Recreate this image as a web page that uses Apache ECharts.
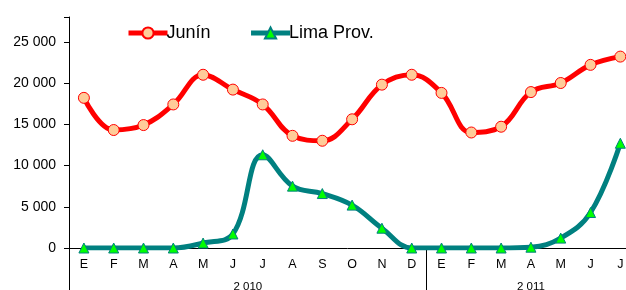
<!DOCTYPE html>
<html>
<head>
<meta charset="utf-8">
<script src="https://cdn.jsdelivr.net/npm/echarts@6/dist/echarts.min.js"></script>
<style>
  html, body { margin: 0; padding: 0; background: #fff; }
  #chart { width: 626px; height: 290px; }
</style>
</head>
<body>
<div id="chart"></div>
<script>
// meses (2010: E..D, 2011: E..J)
const months = ['E', 'F', 'M', 'A', 'M', 'J', 'J', 'A', 'S', 'O', 'N', 'D',
                'E', 'F', 'M', 'A', 'M', 'J', 'J'];
const junin = [18200, 14300, 14900, 17400, 21000, 19200, 17400, 13600, 13000, 15600, 19800, 21000,
               18800, 14000, 14700, 18900, 20000, 22200, 23200];
const limaProv = [0, 0, 0, 0, 600, 1700, 11300, 7500, 6600, 5200, 2400, 0,
                  0, 0, 0, 100, 1200, 4300, 12700];
const years = ['2 010', '2 011'];
const yearCenters = [5.5, 15];    // centro de cada año (en índice de mes)
const yearBounds = [-0.5, 11.5];  // separadores entre años

const fontFam = '"Liberation Sans", Arial, sans-serif';
const idx = months.map((m, i) => i);

// el gráfico original queda cortado a la derecha (último mes a medias)
const xMin = -0.5, xMax = 18.19;

const chart = echarts.init(document.getElementById('chart'));
chart.setOption({
    animation: false,
    textStyle: { fontFamily: fontFam },
    grid: { left: 69, top: 17, right: 0, bottom: 42, containLabel: false, outerBoundsMode: 'none' },
    legend: {
        top: 19,
        left: 121,
        itemWidth: 39,
        itemHeight: 14,
        itemGap: 38,
        lineStyle: { width: 5 },
        textStyle: { fontSize: 18, color: '#000', fontFamily: fontFam, padding: [0, 0, 0, -6] },
        data: ['Junín', 'Lima Prov.']
    },
    xAxis: [
        {
            type: 'value',
            min: xMin,
            max: xMax,
            axisLine: { show: true, onZero: false, lineStyle: { color: '#000', width: 1 } },
            axisTick: { show: false },
            axisLabel: {
                customValues: idx,
                color: '#000', fontSize: 12.5, margin: 10,
                formatter: v => months[v] || ''
            },
            splitLine: { show: false }
        },
        {
            type: 'value',
            position: 'bottom',
            min: xMin,
            max: xMax,
            axisLine: { show: false },
            axisTick: { show: true, customValues: yearBounds, length: 42, lineStyle: { color: '#000' } },
            axisLabel: {
                customValues: yearCenters,
                color: '#000', fontSize: 11.5, margin: 33,
                formatter: v => years[yearCenters.indexOf(v)] || ''
            },
            splitLine: { show: false }
        }
    ],
    yAxis: {
        type: 'value',
        min: 0,
        max: 28000,
        interval: 5000,
        axisLine: { show: true, onZero: false, lineStyle: { color: '#000', width: 1 } },
        axisTick: { show: true, length: 5, lineStyle: { color: '#000' } },
        axisLabel: {
            color: '#000', fontSize: 14, margin: 13,
            formatter: v => v % 5000 === 0 ? (v >= 1000 ? Math.floor(v / 1000) + ' ' + String(v % 1000).padStart(3, '0') : String(v)) : ''
        },
        splitLine: { show: false }
    },
    series: [
        {
            name: 'Junín',
            type: 'line',
            data: junin.map((v, i) => [i, v]),
            smooth: 0.4,
            symbol: 'circle',
            symbolSize: 11,
            lineStyle: { color: '#ff0000', width: 5 },
            itemStyle: { color: '#ffcc99', borderColor: '#ff0000', borderWidth: 1 },
            z: 3
        },
        {
            name: 'Lima Prov.',
            type: 'line',
            data: limaProv.map((v, i) => [i, v]),
            smooth: 0.4,
            symbol: 'triangle',
            symbolSize: 10,
            lineStyle: { color: '#008080', width: 5 },
            itemStyle: { color: '#00ff00', borderColor: '#008080', borderWidth: 1 },
            z: 2
        }
    ]
});
</script>
</body>
</html>
